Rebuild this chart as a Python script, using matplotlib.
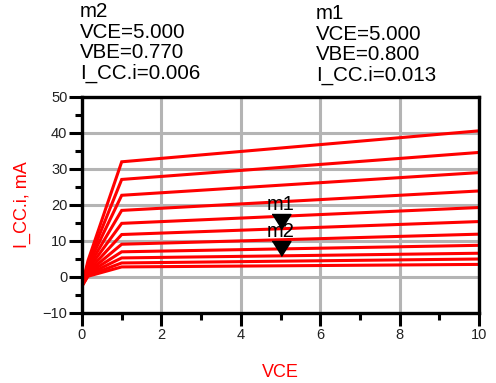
import numpy as np
import matplotlib
matplotlib.use("Agg")
import matplotlib.pyplot as plt
from matplotlib.ticker import MultipleLocator

plt.rcParams['font.family'] = ['Liberation Sans', 'DejaVu Sans']

# Data: family of I_CC vs VCE curves (mA)
vce_points = [0.0, 0.15, 1.0, 10.0]
ic_start = [-2.5] * 11
ic_early = [4.5, 3.8, 3.2, 2.6, 2.1, 1.6, 1.3, 1.0, 0.7, 0.4, 0.2]
ic_knee = [32.0, 27.1, 22.7, 18.5, 14.9, 11.8, 9.1, 7.0, 5.3, 3.9, 2.8]
ic_end = [40.6, 34.6, 29.0, 23.9, 19.3, 15.4, 11.9, 8.8, 6.6, 5.0, 3.5]

m1_vce, m1_ic = 5.0, 13.4
m2_vce, m2_ic = 5.0, 5.9
m1_text = "m1\nVCE=5.000\nVBE=0.800\nI_CC.i=0.013"
m2_text = "m2\nVCE=5.000\nVBE=0.770\nI_CC.i=0.006"

fig = plt.figure(figsize=(4.96, 3.83), dpi=100)
ax = fig.add_axes([82/496, 1-313/383, (479-82)/496, (313-97)/383])

for s, e1, k, e in zip(ic_start, ic_early, ic_knee, ic_end):
    ax.plot(vce_points, [s, e1, k, e], color='#ff0000', lw=2.2, solid_joinstyle='miter', zorder=3)

ax.set_xlim(0, 10)
ax.set_ylim(-10, 50)
ax.xaxis.set_major_locator(MultipleLocator(2))
ax.xaxis.set_minor_locator(MultipleLocator(1))
ax.yaxis.set_major_locator(MultipleLocator(10))
ax.yaxis.set_minor_locator(MultipleLocator(5))
ax.grid(True, which='major', color='#b4b4b4', lw=2.2, zorder=1)
for sp in ax.spines.values():
    sp.set_linewidth(2.4)
    sp.set_color('black')
    sp.set_zorder(4)
ax.tick_params(which='major', direction='out', length=9.5, width=2.2, labelsize=10.5,
               colors='black', labelcolor='#222222', pad=1)
ax.tick_params(which='minor', direction='out', length=5, width=2.2, colors='black')

ax.set_xlabel("VCE", color='#ff0000', fontsize=13, labelpad=16)
ax.set_ylabel("I_CC.i, mA", color='#ff0000', fontsize=13, labelpad=8)

tri = [(-0.63, 1.0), (0.63, 1.0), (0.0, 0.0)]
for vx, vy, lab in [(m1_vce, m1_ic, "m1"), (m2_vce, m2_ic, "m2")]:
    ax.plot([vx], [vy], marker=tri, markersize=21.6, color='black', zorder=5, clip_on=False)
    ax.annotate(lab, (vx, vy), xytext=(0, 13.5), textcoords='offset points',
                ha='center', va='baseline', fontsize=14.5, color='black', zorder=6)

fig.text(80/496, 1-2/383, m2_text, ha='left', va='top', fontsize=14.8, linespacing=1.1)
fig.text(316/496, 1-4/383, m1_text, ha='left', va='top', fontsize=14.8, linespacing=1.1)

fig.savefig("out.png", dpi=100)
